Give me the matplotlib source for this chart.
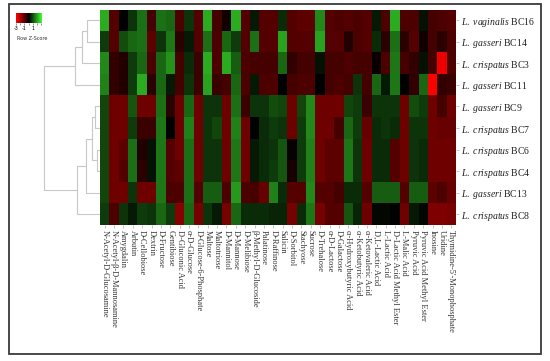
import numpy as np
import matplotlib; matplotlib.use("Agg")
import matplotlib.pyplot as plt
from matplotlib.colors import LinearSegmentedColormap
from matplotlib.patches import Rectangle

W, H = 550, 361
plt.rcParams["font.family"] = ["Liberation Serif", "DejaVu Serif"]
plt.rcParams["mathtext.fontset"] = "custom"
plt.rcParams["mathtext.rm"] = "Liberation Serif"
plt.rcParams["mathtext.it"] = "Liberation Serif:italic"

# Data
species = ["L. vaginalis", "L. gasseri", "L. crispatus", "L. gasseri", "L. gasseri",
           "L. crispatus", "L. crispatus", "L. crispatus", "L. gasseri", "L. crispatus"]
strains = ["BC16", "BC14", "BC3", "BC11", "BC9", "BC7", "BC6", "BC4", "BC13", "BC8"]
substrates = ["N-Acetyl-D-Glucosamine", "N-Acetyl-β-D-Mannosamine", "Amygdalin", "Arbutin",
              "D-Cellobiose", "Dextrin", "D-Fructose", "Gentibiose", "D-Gluconic Acid",
              "α-D-Glucose", "D-Glucose-6-Phosphate", "Maltose", "Maltotriose", "D-Mannitol",
              "D-Mannose", "D-Melibiose", "β-Methyl-D-Glucoside", "Palatinose", "D-Raffinose",
              "Salicin", "D-Sorbitol", "Stachyose", "Sucrose", "D-Trehalose", "α-D-Lactose",
              "D-Galactose", "α-Hydroxybutyric Acid", "α-Ketobutyric Acid", "α-Ketovaleric Acid",
              "D,L-Lactic Acid", "L-Lactic Acid", "D-Lactic Acid Methyl Ester", "L-Malic Acid",
              "Pyruvic Acid", "Pyruvic Acid Methyl Ester", "Inosine", "Uridine",
              "Thymidine-5'-Monophosphate"]

bc16 = [2.0, -1.0, 0.0, 0.6, 1.3, -0.8, 1.3, 1.2, -0.9, 0.6, -1.0, 2.0, -0.8, -0.2, 2.0, -1.0, 0.3, -1.0, -1.0,
        0.5, -1.0, -1.1, -1.1, 1.6, -1.0, -0.9, -1.0, -0.9, -1.0, 0.3, -0.9, 2.0, -0.9, -0.9, 0.2, -0.8, -0.9, -1.0]
bc14 = [0.7, -1.0, 0.9, 1.2, 1.3, -1.1, 0.6, 1.4, -0.5, 0.3, -1.0, 1.3, -0.9, 1.2, 0.7, -1.0, 1.3, -1.0, -1.0,
        1.9, -1.0, -1.0, -1.0, 1.9, -1.0, -1.0, -0.4, -0.9, -1.0, 0.5, -0.5, 1.3, -0.5, -1.0, -0.2, -0.8, -0.5, -0.9]
bc3 = [1.6, -0.6, -0.4, 0.7, 1.2, -0.9, 1.2, 1.7, -0.8, 0.5, -0.7, 2.0, -0.9, 2.0, 1.1, -0.9, -0.8, -0.8, -0.8,
       1.2, -0.6, -0.8, -0.8, 0.2, -0.8, -0.8, -0.9, -0.8, -0.8, -0.1, -0.9, 1.4, -0.8, -0.6, 0.2, -0.8, -2.8, -0.9]
bc11 = [1.5, -0.6, -0.4, 0.7, 2.0, -0.5, 1.2, 0.3, -0.8, 0.6, -0.7, 1.9, -0.7, -0.8, 1.2, -0.9, 0.3, -0.9, -0.9,
        0.0, -0.8, -0.9, -0.9, 0.0, -0.8, -0.9, -0.8, 0.6, -0.8, 1.2, 0.3, 1.4, 0.0, -0.6, 1.2, -3.0, -0.6, -0.7]
bc9 = [0.8, -1.3, -1.3, 1.0, -1.3, -1.3, 1.3, -0.5, -1.3, 1.2, -1.3, 0.6, 0.6, -1.3, 1.3, -0.7, 0.6, 0.6, 0.9,
       0.8, -1.3, 0.8, 1.6, -1.3, -1.3, -1.3, 0.8, 0.7, -0.7, 0.6, 0.6, 0.6, -1.3, 0.9, 0.7, -1.3, -0.8, -1.3]
bc7 = [0.8, -1.3, -1.3, 0.7, -0.7, -0.7, 1.4, 0.0, -1.3, 1.5, -1.3, 0.6, 0.8, -1.3, 1.5, -1.3, 0.0, 0.5, 0.7,
       0.6, -1.3, 0.7, 1.6, -1.3, -1.3, -0.8, 1.2, 0.7, -1.2, 0.5, 0.6, 0.5, -1.3, 0.6, 0.6, -1.3, -1.2, -1.2]
bc6 = [0.8, -1.3, -1.1, 1.3, -0.4, 0.2, 1.4, -1.0, -1.3, 1.3, -1.3, 0.6, 0.6, -1.3, 1.4, -1.3, 0.3, 0.5, 0.6,
       1.0, -0.1, 0.7, 1.5, -1.3, -1.1, -1.1, 1.4, 0.6, -1.3, 0.5, 0.5, -1.0, -1.3, 0.6, 0.5, -1.3, -1.3, -1.3]
bc4 = [0.8, -1.3, -1.0, 1.3, -0.5, 0.2, 1.4, -1.0, -1.1, 1.3, -1.3, 0.6, 0.6, -1.3, 1.4, -1.3, 0.3, 0.5, 0.7,
       1.0, -0.3, 0.7, 1.5, -1.3, -1.1, -1.1, 1.4, 0.6, -1.3, 0.5, 0.5, -1.0, -1.3, 0.6, 0.5, -1.3, -1.3, -1.3]
bc13 = [0.8, -1.3, -1.3, 0.6, -1.3, -1.3, 1.4, -0.9, -0.9, 1.3, -1.0, 1.1, 1.1, -0.9, 1.8, -0.9, -0.8, -1.2, 1.5,
        0.5, -1.0, -1.0, 1.6, -1.0, -1.0, -0.8, 0.5, 0.5, -1.0, 1.1, 1.1, 1.1, -1.0, 1.1, 1.1, -1.1, -0.9, -1.2]
bc8 = [0.7, -0.9, 0.6, 0.3, 0.7, 0.6, 1.2, 0.7, -1.6, 1.2, -1.4, 0.6, 0.3, -1.4, 1.2, 0.5, 0.5, 0.5, 0.4,
       0.4, -1.4, 0.5, 1.4, -1.4, -1.0, -1.0, 1.0, 0.4, -1.3, 0.1, 0.1, 0.0, -1.3, 0.3, 0.1, -1.5, -1.5, -1.4]
z = np.array([bc16, bc14, bc3, bc11, bc9, bc7, bc6, bc4, bc13, bc8])

# row dendrogram: (child a, child b, height); ids >= 10 are earlier merges
merges = [(0, 1, 13), (10, 2, 18), (11, 3, 25), (4, 5, 5), (6, 7, 3),
          (13, 14, 8), (15, 8, 14), (16, 9, 23), (12, 17, 56)]

cmap = LinearSegmentedColormap.from_list("rg", ["#ff0000", "#000000", "#40ff30"])

def box(x0, y0, x1, y1):
    return [x0 / W, 1 - y1 / H, (x1 - x0) / W, (y1 - y0) / H]

fig = plt.figure(figsize=(W / 100, H / 100), dpi=100)

# Heatmap
ax = fig.add_axes(box(100, 9.5, 456, 225))
ax.imshow(z, cmap=cmap, vmin=-3, vmax=3, aspect="auto", interpolation="nearest")
for sp in ax.spines.values(): sp.set_visible(False)
ax.set_xticks(range(len(substrates)))
ax.set_xticklabels(substrates, rotation=270, ha="center", va="top", fontsize=6, color="#333")
ax.yaxis.tick_right()
ax.set_yticks(range(len(strains)))
ylabels = []
for s, b in zip(species, strains):
    ylabels.append("$\\mathit{" + s.replace(" ", "\\ ") + "}$ " + b)
ax.set_yticklabels(ylabels, fontsize=7, color="#222")
ax.tick_params(length=2, width=0.5, color="#aaa", pad=1.5)

# Dendrogram
axd = fig.add_axes(box(40, 9.5, 100, 225))
axd.set_xlim(60, 0); axd.set_ylim(len(strains) - 0.5, -0.5); axd.axis("off")
pos = {i: i for i in range(len(strains))}
hgt = {i: 0 for i in range(len(strains))}
for k, (a, b, h) in enumerate(merges):
    axd.plot([hgt[a], h, h, hgt[b]], [pos[a], pos[a], pos[b], pos[b]], color="#c8c8c8", lw=0.8)
    pos[10 + k] = (pos[a] + pos[b]) / 2; hgt[10 + k] = h

# Color key
axk = fig.add_axes(box(16, 13, 41, 23))
axk.imshow(np.linspace(-3, 3, 64)[None, :], cmap=cmap, vmin=-3, vmax=3, aspect="auto", extent=[-3, 3, 0, 1])
for sp in axk.spines.values(): sp.set_visible(False)
axk.set_yticks([])
axk.set_xticks(np.arange(-3, 4))
axk.set_xticklabels(["-3", "", "-1", "", "1", "", ""], fontsize=3.5, family="DejaVu Sans")
axk.tick_params(length=1.5, width=0.4, pad=0.8, color="#444")
fig.text(17 / W, 1 - 39 / H, "Row Z-Score", fontsize=3.5, family="DejaVu Sans", va="center", color="#333")

# Outer frame
fig.add_artist(Rectangle((9 / W, 1 - 354 / H), 532 / W, 350 / H, transform=fig.transFigure,
                         fill=False, ec="#3a3a3a", lw=1.3))

fig.savefig("out.png", dpi=100)
